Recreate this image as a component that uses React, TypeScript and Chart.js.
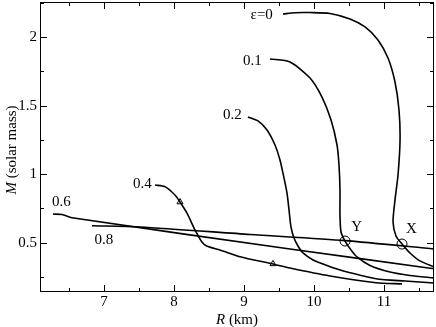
import React, { useEffect, useRef } from "react";
import { Chart, registerables } from "chart.js";

Chart.register(...registerables);

// Tick values
const X_TICKS = [7, 8, 9, 10, 11];
const X_MINOR = [6.5, 7.5, 8.5, 9.5, 10.5, 11.5];
const Y_TICKS = [0.5, 1, 1.5, 2];
const Y_MINOR = [0.25, 0.75, 1.25, 1.75, 2.25];

// ε = 0
const EPS0_R = [9.557, 9.729, 9.943, 10.229, 10.514, 10.729, 10.914, 11.057, 11.157, 11.214, 11.229, 11.2, 11.157, 11.129, 11.171, 11.257, 11.371, 11.514, 11.714];
const EPS0_M = [2.169, 2.179, 2.18, 2.173, 2.133, 2.075, 1.98, 1.848, 1.673, 1.469, 1.25, 0.994, 0.812, 0.651, 0.549, 0.491, 0.425, 0.367, 0.323];
// ε = 0.1
const EPS1_R = [9.371, 9.657, 9.943, 10.114, 10.243, 10.329, 10.357, 10.371, 10.371, 10.386, 10.443, 10.529, 10.614, 10.8, 11.086, 11.371, 11.714];
const EPS1_M = [1.841, 1.819, 1.702, 1.563, 1.396, 1.213, 1.067, 0.885, 0.702, 0.578, 0.512, 0.447, 0.396, 0.334, 0.286, 0.261, 0.242];
// ε = 0.2
const EPS2_R = [9.057, 9.2, 9.329, 9.443, 9.514, 9.571, 9.614, 9.643, 9.671, 9.714, 9.771, 9.843, 9.986, 10.129, 10.329, 10.514, 10.886, 11.3, 11.714];
const EPS2_M = [1.418, 1.389, 1.323, 1.213, 1.104, 0.973, 0.863, 0.739, 0.615, 0.534, 0.476, 0.425, 0.374, 0.345, 0.308, 0.281, 0.237, 0.22, 0.206];
// ε = 0.4
const EPS4_R = [7.729, 7.871, 8.014, 8.086, 8.186, 8.3, 8.396, 8.467, 8.657, 8.943, 9.414, 9.657, 10.229, 10.886, 11.257];
const EPS4_M = [0.921, 0.909, 0.848, 0.797, 0.715, 0.593, 0.507, 0.476, 0.447, 0.398, 0.345, 0.315, 0.257, 0.208, 0.199];
// ε = 0.6
const EPS6_R = [6.271, 6.4, 6.543, 9.657, 11.714];
const EPS6_M = [0.709, 0.706, 0.682, 0.454, 0.31];
// ε = 0.8
const EPS8_R = [6.829, 7.514, 9.086, 10.443, 11.714];
const EPS8_M = [0.624, 0.615, 0.56, 0.515, 0.454];

// Marked points
const CIRCLE_R = [10.443, 11.257];
const CIRCLE_M = [0.512, 0.49];
const TRI_R = [8.086, 9.414];
const TRI_M = [0.797, 0.345];

// Curve labels (text, R, M)
const LABEL_TEXT = ["ε=0", "0.1", "0.2", "0.4", "0.6", "0.8", "Y", "X"];
const LABEL_R = [9.253, 9.121, 8.833, 7.547, 6.39, 7.0, 10.61, 11.39];
const LABEL_M = [2.162, 1.828, 1.428, 0.928, 0.799, 0.52, 0.617, 0.598];

const FONT = '"Liberation Serif", "Times New Roman", serif';

const zip = (xs: number[], ys: number[]) => xs.map((x, i) => ({ x, y: ys[i] }));

const curve = (xs: number[], ys: number[]) => ({
  data: zip(xs, ys),
  showLine: true,
  borderColor: "#000",
  borderWidth: 1.6,
  pointRadius: 0,
  tension: 0.25,
  fill: false,
});

const noPad = (s: any) => {
  s.paddingTop = 0;
  s.paddingBottom = 0;
  s.paddingLeft = 0;
  s.paddingRight = 0;
};

const overlay = {
  id: "overlay",
  afterDraw(chart: any) {
    const { ctx, chartArea: a, scales } = chart;
    const xs = scales.x;
    const ys = scales.y;
    ctx.save();
    ctx.strokeStyle = "#000";
    ctx.lineWidth = 1;
    ctx.strokeRect(a.left + 0.5, a.top + 0.5, a.right - a.left - 1, a.bottom - a.top - 1);
    ctx.beginPath();
    const xt = (v: number, len: number) => {
      const p = Math.round(xs.getPixelForValue(v)) + 0.5;
      ctx.moveTo(p, a.bottom);
      ctx.lineTo(p, a.bottom - len);
      ctx.moveTo(p, a.top);
      ctx.lineTo(p, a.top + len);
    };
    const yt = (v: number, len: number) => {
      const p = Math.round(ys.getPixelForValue(v)) + 0.5;
      if (p < a.top || p > a.bottom) return;
      ctx.moveTo(a.left, p);
      ctx.lineTo(a.left + len, p);
      ctx.moveTo(a.right, p);
      ctx.lineTo(a.right - len, p);
    };
    X_TICKS.forEach((v) => xt(v, 7));
    X_MINOR.forEach((v) => xt(v, 4));
    Y_TICKS.forEach((v) => yt(v, 7));
    Y_MINOR.forEach((v) => yt(v, 4));
    ctx.stroke();

    ctx.fillStyle = "#000";
    ctx.font = `15px ${FONT}`;
    ctx.textAlign = "center";
    ctx.textBaseline = "middle";
    LABEL_TEXT.forEach((t, i) => {
      ctx.fillText(t, xs.getPixelForValue(LABEL_R[i]), ys.getPixelForValue(LABEL_M[i]));
    });

    // axis titles with italic symbol
    const drawTitle = (sym: string, rest: string, cx: number, cy: number) => {
      ctx.font = `italic 15px ${FONT}`;
      const w1 = ctx.measureText(sym).width;
      ctx.font = `15px ${FONT}`;
      const w2 = ctx.measureText(rest).width;
      const start = cx - (w1 + w2) / 2;
      ctx.textAlign = "left";
      ctx.font = `italic 15px ${FONT}`;
      ctx.fillText(sym, start, cy);
      ctx.font = `15px ${FONT}`;
      ctx.fillText(rest, start + w1, cy);
    };
    drawTitle("R", " (km)", (a.left + a.right) / 2, a.bottom + 28);
    ctx.save();
    ctx.translate(12, (a.top + a.bottom) / 2 + 3);
    ctx.rotate(-Math.PI / 2);
    drawTitle("M", " (solar mass)", 0, 0);
    ctx.restore();
    ctx.restore();
  },
};

export default function App() {
  const ref = useRef<HTMLCanvasElement>(null);
  useEffect(() => {
    if (!ref.current) return;
    const chart = new Chart(ref.current, {
      type: "scatter",
      data: {
        datasets: [
          curve(EPS0_R, EPS0_M),
          curve(EPS1_R, EPS1_M),
          curve(EPS2_R, EPS2_M),
          curve(EPS4_R, EPS4_M),
          curve(EPS6_R, EPS6_M),
          curve(EPS8_R, EPS8_M),
          {
            data: zip(CIRCLE_R, CIRCLE_M),
            pointStyle: "circle",
            pointRadius: 5,
            borderColor: "#000",
            borderWidth: 1,
            backgroundColor: "rgba(0,0,0,0)",
            showLine: false,
          },
          {
            data: zip(TRI_R, TRI_M),
            pointStyle: "triangle",
            pointRadius: 3.5,
            borderColor: "#000",
            borderWidth: 1,
            backgroundColor: "rgba(0,0,0,0)",
            showLine: false,
          },
        ] as any,
      },
      options: {
        animation: false,
        responsive: false,
        events: [],
        layout: { autoPadding: false, padding: { top: 2, right: 2, left: 0, bottom: 0 } },
        plugins: { legend: { display: false }, tooltip: { enabled: false } },
        scales: {
          x: {
            type: "linear",
            min: 6.086,
            max: 11.714,
            grid: { display: false, drawTicks: false, tickLength: 0 },
            border: { display: false },
            afterBuildTicks: (s: any) => {
              s.ticks = X_TICKS.map((v) => ({ value: v }));
            },
            afterFit: (s: any) => {
              s.height = 35;
              noPad(s);
            },
            ticks: {
              padding: 1,
              color: "#000",
              maxRotation: 0,
              font: { family: FONT, size: 15 },
              callback: (v: any) => String(v),
            },
          },
          y: {
            type: "linear",
            min: 0.14,
            max: 2.257,
            grid: { display: false, drawTicks: false, tickLength: 0 },
            border: { display: false },
            afterBuildTicks: (s: any) => {
              s.ticks = Y_TICKS.map((v) => ({ value: v }));
            },
            afterFit: (s: any) => {
              s.width = 40;
              noPad(s);
            },
            ticks: {
              padding: 3,
              color: "#000",
              font: { family: FONT, size: 15 },
              callback: (v: any) => String(v),
            },
          },
        },
      },
      plugins: [overlay],
    });
    return () => chart.destroy();
  }, []);
  return (
    <div style={{ position: "fixed", left: 0, top: 0, width: 436, height: 327, background: "#fff" }}>
      <canvas ref={ref} width={436} height={327} style={{ width: 436, height: 327 }} />
    </div>
  );
}
